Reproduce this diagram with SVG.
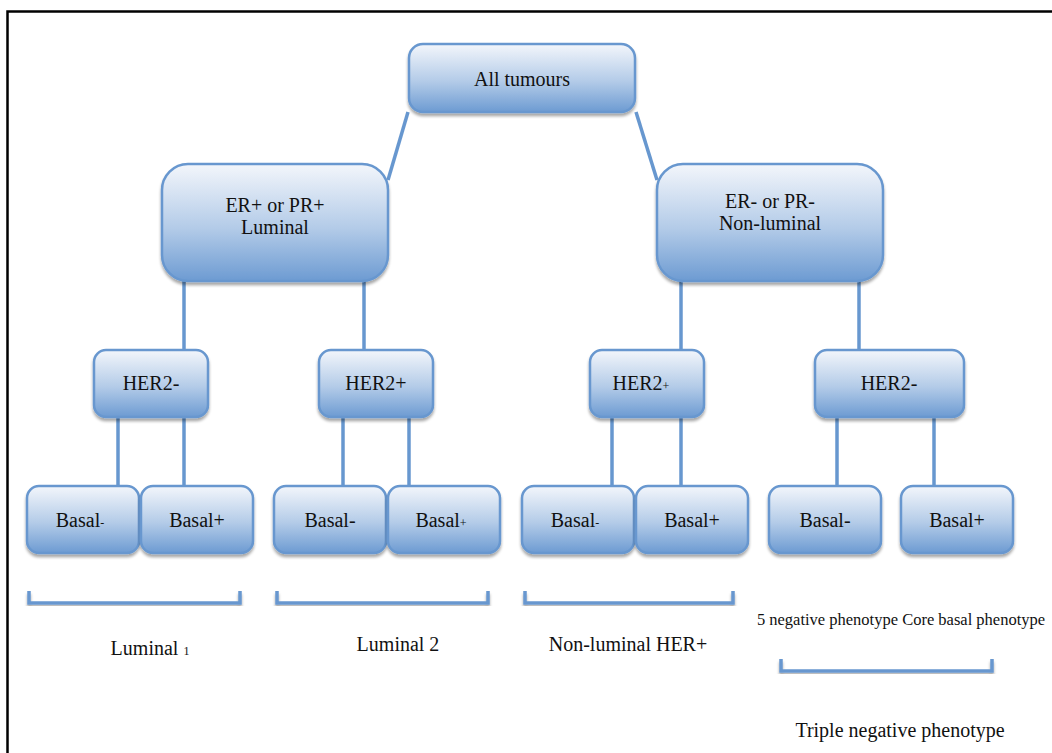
<svg xmlns="http://www.w3.org/2000/svg" width="1052" height="753" viewBox="0 0 1052 753">
<defs>
<linearGradient id="g" x1="0" y1="0" x2="0" y2="1">
<stop offset="0" stop-color="#f3f6fb"/>
<stop offset="0.55" stop-color="#b3cbe8"/>
<stop offset="1" stop-color="#6d9bd2"/>
</linearGradient>
<filter id="sh" x="-10%" y="-10%" width="130%" height="130%">
<feGaussianBlur in="SourceAlpha" stdDeviation="1.5"/>
<feOffset dx="0" dy="2.5" result="b"/>
<feComponentTransfer><feFuncA type="linear" slope="0.35"/></feComponentTransfer>
<feMerge><feMergeNode/><feMergeNode in="SourceGraphic"/></feMerge>
</filter>
</defs>
<style>
.box{fill:url(#g);stroke:#6797cf;stroke-width:2.5;filter:url(#sh)}
.c{stroke:#6797cf;stroke-width:3.5;fill:none}
.br{stroke:#6797cf;stroke-width:3.5;fill:none;filter:url(#sh)}
text{font-family:'Liberation Serif','DejaVu Serif',serif;font-size:20px;fill:#111;text-anchor:middle}
.s{font-size:12px}
.m{font-size:16.5px}
</style>
<rect width="1052" height="753" fill="#fff"/>
<path d="M7.5 753 V11.5 H1052" stroke="#000" stroke-width="2.5" fill="none"/>
<g id="connectors">
<line class="c" x1="408" y1="112" x2="388" y2="180"/>
<line class="c" x1="636" y1="112" x2="657" y2="180"/>
<line class="c" x1="184" y1="281" x2="184" y2="350"/>
<line class="c" x1="364" y1="281" x2="364" y2="350"/>
<line class="c" x1="681" y1="281" x2="681" y2="350"/>
<line class="c" x1="859" y1="281" x2="859" y2="350"/>
<line class="c" x1="118" y1="417" x2="118" y2="486"/>
<line class="c" x1="184" y1="417" x2="184" y2="486"/>
<line class="c" x1="343" y1="417" x2="343" y2="486"/>
<line class="c" x1="409" y1="417" x2="409" y2="486"/>
<line class="c" x1="612" y1="417" x2="612" y2="486"/>
<line class="c" x1="681" y1="417" x2="681" y2="486"/>
<line class="c" x1="837" y1="417" x2="837" y2="486"/>
<line class="c" x1="934" y1="417" x2="934" y2="486"/>
</g>
<g id="all"><rect class="box" x="409" y="44" width="226" height="68" rx="14"/><text x="522" y="86">All tumours</text></g>
<g id="erpos"><rect class="box" x="162" y="164" width="226" height="117" rx="26"/><text x="275" y="212">ER+ or PR+</text><text x="275" y="234">Luminal</text></g>
<g id="erneg"><rect class="box" x="657" y="164" width="226" height="117" rx="26"/><text x="770" y="208">ER- or PR-</text><text x="770" y="230">Non-luminal</text></g>
<g id="her2n1"><rect class="box" x="94" y="350" width="114" height="67" rx="12"/><text x="151" y="390">HER2-</text></g>
<g id="her2p1"><rect class="box" x="319" y="350" width="114" height="67" rx="12"/><text x="376" y="390">HER2+</text></g>
<g id="her2p2"><rect class="box" x="590" y="350" width="114" height="67" rx="12"/><text x="641" y="390">HER2<tspan class="s">+</tspan></text></g>
<g id="her2n2"><rect class="box" x="815" y="350" width="149" height="67" rx="12"/><text x="889" y="390">HER2-</text></g>
<g id="b1"><rect class="box" x="27" y="486" width="112" height="67" rx="12"/><text x="80" y="527">Basal<tspan class="s">-</tspan></text></g>
<g id="b2"><rect class="box" x="141" y="486" width="112" height="67" rx="12"/><text x="197" y="527">Basal+</text></g>
<g id="b3"><rect class="box" x="274" y="486" width="112" height="67" rx="12"/><text x="330" y="527">Basal-</text></g>
<g id="b4"><rect class="box" x="388" y="486" width="112" height="67" rx="12"/><text x="441" y="527">Basal<tspan class="s">+</tspan></text></g>
<g id="b5"><rect class="box" x="522" y="486" width="112" height="67" rx="12"/><text x="575" y="527">Basal<tspan class="s">-</tspan></text></g>
<g id="b6"><rect class="box" x="636" y="486" width="112" height="67" rx="12"/><text x="692" y="527">Basal+</text></g>
<g id="b7"><rect class="box" x="769" y="486" width="112" height="67" rx="12"/><text x="825" y="527">Basal-</text></g>
<g id="b8"><rect class="box" x="901" y="486" width="112" height="67" rx="12"/><text x="957" y="527">Basal+</text></g>
<g id="brackets">
<path class="br" d="M29 591 V603 H240 V591"/>
<path class="br" d="M277 591 V603 H488 V591"/>
<path class="br" d="M525 591 V603 H733 V591"/>
<path class="br" d="M781 659 V671 H992 V659"/>
</g>
<g id="labels">
<text x="150" y="655">Luminal <tspan class="s">1</tspan></text>
<text x="398" y="651">Luminal 2</text>
<text x="628" y="651">Non-luminal HER+</text>
<text class="m" x="901" y="625">5 negative phenotype Core basal phenotype</text>
<text x="900" y="737">Triple negative phenotype</text>
</g>
</svg>
